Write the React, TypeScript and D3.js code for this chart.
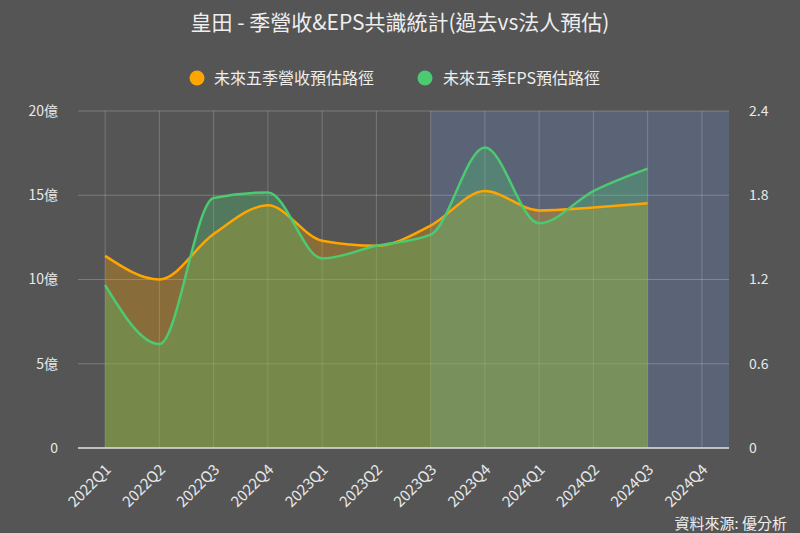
import * as d3 from 'd3';

const quarters = [
  '2022Q1', '2022Q2', '2022Q3', '2022Q4',
  '2023Q1', '2023Q2', '2023Q3', '2023Q4',
  '2024Q1', '2024Q2', '2024Q3', '2024Q4',
];
// 營收 (億)
const revenue = [11.4, 10.0, 12.7, 14.4, 12.3, 12.0, 13.2, 15.25, 14.1, 14.28, 14.52];
// EPS (元)
const eps = [1.16, 0.74, 1.78, 1.82, 1.35, 1.44, 1.52, 2.14, 1.6, 1.83, 1.99];
const leftTicks = [0, 5, 10, 15, 20];
const rightTicks = [0, 0.6, 1.2, 1.8, 2.4];
const forecastStart = '2023Q3';

const title = '皇田 - 季營收&EPS共識統計(過去vs法人預估)';
const legendNames = ['未來五季營收預估路徑', '未來五季EPS預估路徑'];
const source = '資料來源: 優分析';

const ORANGE = '#ffa500';
const GREEN = '#4cca72';
const FONT = '"Noto Sans CJK TC", "Noto Sans", sans-serif';

export default function App() {
  const width = 800;
  const height = 533;
  const margin = { top: 111, right: 71, bottom: 85, left: 78 };
  const innerW = width - margin.left - margin.right;
  const innerH = height - margin.top - margin.bottom;

  const x = d3.scaleBand().domain(quarters).range([0, innerW]).padding(0);
  const cx = (q: string) => (x(q) ?? 0) + x.bandwidth() / 2;
  const yL = d3.scaleLinear().domain([0, 20]).range([innerH, 0]);
  const yR = d3.scaleLinear().domain([0, 2.4]).range([innerH, 0]);

  const revArea = d3.area<number>()
    .x((_, i) => cx(quarters[i]))
    .y0(innerH)
    .y1(d => yL(d))
    .curve(d3.curveMonotoneX);
  const revLine = d3.line<number>()
    .x((_, i) => cx(quarters[i]))
    .y(d => yL(d))
    .curve(d3.curveMonotoneX);
  const epsArea = d3.area<number>()
    .x((_, i) => cx(quarters[i]))
    .y0(innerH)
    .y1(d => yR(d))
    .curve(d3.curveMonotoneX);
  const epsLine = d3.line<number>()
    .x((_, i) => cx(quarters[i]))
    .y(d => yR(d))
    .curve(d3.curveMonotoneX);

  const fx = cx(forecastStart);

  return (
    <svg
      width={width}
      height={height}
      style={{ position: 'absolute', left: 0, top: 0, background: '#555555' }}
      fontFamily={FONT}
    >
      <rect width={width} height={height} fill="#555555" />
      <text x={400} y={30} textAnchor="middle" fontSize={21} fill="#eeeeee">{title}</text>

      {/* legend */}
      <g>
        <circle cx={197} cy={78} r={7.5} fill={ORANGE} />
        <text x={214} y={84} fontSize={16} fill="#eeeeee">{legendNames[0]}</text>
        <circle cx={425} cy={78} r={7.5} fill={GREEN} />
        <text x={443} y={84} fontSize={16} fill="#eeeeee">{legendNames[1]}</text>
      </g>

      <g transform={`translate(${margin.left},${margin.top})`}>
        {/* forecast region */}
        <rect x={fx} y={0} width={innerW - fx} height={innerH} fill="#5b6377" />

        {/* grid */}
        {leftTicks.map((t, i) => (
          <line key={'h' + i} x1={0} x2={innerW} y1={yL(t)} y2={yL(t)} stroke="rgba(255,255,255,0.22)" />
        ))}
        {quarters.map(q => (
          <line key={'v' + q} x1={cx(q)} x2={cx(q)} y1={0} y2={innerH} stroke="rgba(255,255,255,0.2)" />
        ))}

        {/* areas */}
        <path d={revArea(revenue) ?? ''} fill={ORANGE} fillOpacity={0.3} />
        <path d={epsArea(eps) ?? ''} fill={GREEN} fillOpacity={0.3} />
        <path d={revLine(revenue) ?? ''} fill="none" stroke={ORANGE} strokeWidth={2.5} />
        <path d={epsLine(eps) ?? ''} fill="none" stroke={GREEN} strokeWidth={2.5} />

        {/* bottom axis */}
        <line x1={0} x2={innerW} y1={innerH} y2={innerH} stroke="#dddddd" strokeWidth={1.5} />

        {/* left ticks */}
        {leftTicks.map((t, i) => (
          <text key={'l' + i} x={-20} y={yL(t)} dy="0.35em" textAnchor="end" fontSize={14} fill="#e8e8e8">
            {t === 0 ? '0' : `${t}億`}
          </text>
        ))}
        {/* right ticks */}
        {rightTicks.map((t, i) => (
          <text key={'r' + i} x={innerW + 20} y={yR(t)} dy="0.35em" textAnchor="start" fontSize={14} fill="#e8e8e8">
            {t === 0 ? '0' : t.toFixed(1)}
          </text>
        ))}
        {/* x labels */}
        {quarters.map(q => (
          <text
            key={'x' + q}
            transform={`translate(${cx(q) + 3},${innerH + 19}) rotate(-45)`}
            textAnchor="end"
            dy="0.35em"
            fontSize={15}
            fill="#e8e8e8"
          >
            {q}
          </text>
        ))}
      </g>

      <text x={787} y={529} textAnchor="end" fontSize={15} fill="#eeeeee">{source}</text>
    </svg>
  );
}
